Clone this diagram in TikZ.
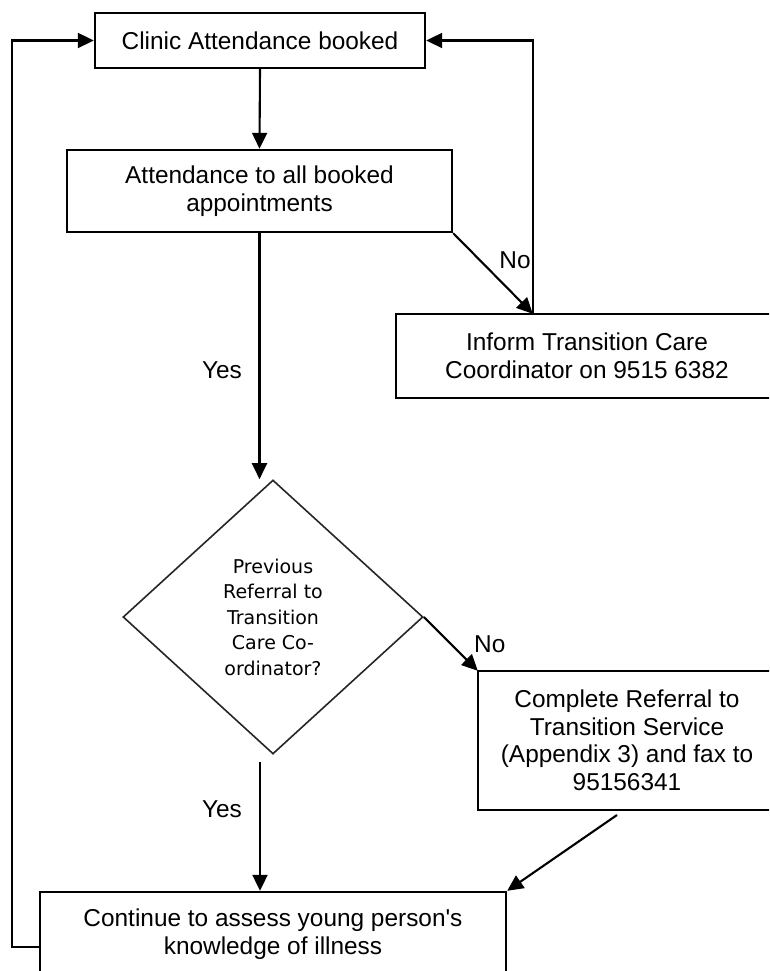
\documentclass[tikz,border=0pt]{standalone}
\usepackage{fontspec}
\setmainfont{Liberation Sans}
\newfontfamily\dfont{DejaVu Sans}
\usetikzlibrary{arrows.meta,shapes.geometric,calc}
\begin{document}
\begin{tikzpicture}[x=1pt,y=-1pt,
  boxline/.style={draw=black,line width=2.4pt},
  box/.style={boxline,align=center,inner sep=0pt,
    font=\fontsize{24.4}{27.5}\selectfont},
  arr/.style={line width=2.1pt,-{Triangle[length=16pt,width=15pt]}},
  lbl/.style={font=\fontsize{24.4}{27.5}\selectfont,inner sep=0pt}]
\useasboundingbox (0,0) rectangle (769,971);
\clip (0,0) rectangle (769,971);
\fill[white] (0,0) rectangle (769,971);

\node[box,minimum width=330pt,minimum height=55pt] (b1) at (260,40.5) {Clinic Attendance booked};
\node[box,minimum width=385pt,minimum height=82pt] (b2) at (259.5,191) {Attendance to all booked\\appointments};
\node[box,draw=none,minimum width=380pt,minimum height=82pt] (i) at (587,356) {Inform Transition Care\\Coordinator on 9515 6382};
\draw[boxline] (i.north west) rectangle ($(i.south east)+(30,0)$);
\node[diamond,draw=black!85,line width=1.6pt,minimum width=300pt,minimum height=274pt,
  inner sep=0pt,align=center,font=\dfont\fontsize{19}{25.5}\selectfont] (d) at (273,617)
  {Previous\\Referral to\\Transition\\Care Co-\\ordinator?};
\node[box,draw=none,minimum width=296pt,minimum height=137pt] (c) at (627,740.5) {Complete Referral to\\Transition Service\\(Appendix 3) and fax to\\95156341};
\draw[boxline] (c.north west) rectangle ($(c.south east)+(30,0)$);
\node[box,minimum width=466pt,minimum height=106.5pt] (b5) at (273,945.25) {Continue to assess young person\textquotesingle s\\knowledge of illness\\ };

\coordinate (ic) at ($(i.north west)+(137,0)$);
\coordinate (ys) at (260,762);
\coordinate (cs) at (617,815);
\coordinate (bl) at ($(b5.west)+(0,1.75)$);
\coordinate (lc) at (12,947);

\draw[arr] (b1.south) -- (b2.north);
\draw[arr] (b2.south) -- (b2.south |- d.north);
\draw[arr] (b2.south east) -- (ic);
\draw[arr] (ic) |- (b1.east);
\draw[arr] (d.east) -- (c.north west);
\draw[arr] (ys) -- (ys |- b5.north);
\draw[arr] (cs) -- (b5.north east);
\draw[arr] (bl) -- (lc) |- (b1.west);

\node[lbl] at (515,260) {No};
\node[lbl] at (222,370) {Yes};
\node[lbl,anchor=west] at (474,644) {No};
\node[lbl] at (222,809) {Yes};
\end{tikzpicture}
\end{document}
